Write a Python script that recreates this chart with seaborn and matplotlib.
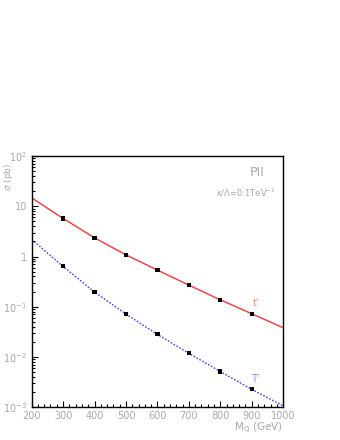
import numpy as np, pandas as pd, matplotlib
matplotlib.use("Agg")
import matplotlib.pyplot as plt
import matplotlib.ticker as mticker
import seaborn as sns

sns.set_style("ticks")
plt.rcParams["font.family"] = ["DejaVu Sans"]

# Data
mass     = [200, 300, 400, 500, 600, 700, 800, 900, 1000]
xs_tprim = [14.8, 5.74, 2.36, 1.08, 0.536, 0.269, 0.137, 0.0722, 0.038]
xs_Tprim = [2.19, 0.635, 0.195, 0.0713, 0.028, 0.01175, 0.0051, 0.00225, 0.00105]
mark_idx = slice(1, 8)   # markers at 300..900 GeV

df = pd.DataFrame({"M": mass, "tp": xs_tprim, "Tp": xs_Tprim})
GREY = "#a8a8a8"

fig = plt.figure(figsize=(3.4, 4.4), dpi=100)
ax = fig.add_axes([0.093, 0.075, 0.740, 0.570])

sns.lineplot(data=df, x="M", y="tp", color="#ff3333", lw=1.0, ax=ax)
sns.lineplot(data=df, x="M", y="Tp", color="#4040ff", lw=1.0, ls=(0, (1.2, 1.2)), ax=ax)
mk = df.iloc[mark_idx]
sns.scatterplot(x=mk["M"], y=mk["tp"], marker="s", s=9, color="black", edgecolor="none", ax=ax, zorder=5)
sns.scatterplot(x=mk["M"], y=mk["Tp"], marker="s", s=9, color="black", edgecolor="none", ax=ax, zorder=5)

ax.set_yscale("log")
ax.set_xlim(200, 1000); ax.set_ylim(1e-3, 1e2)
ax.xaxis.set_major_locator(mticker.MultipleLocator(100))
ax.xaxis.set_minor_locator(mticker.MultipleLocator(20))
ax.yaxis.set_major_locator(mticker.LogLocator(base=10, numticks=10))
ax.yaxis.set_minor_locator(mticker.LogLocator(base=10, subs=np.arange(2, 10), numticks=20))
ax.yaxis.set_minor_formatter(mticker.NullFormatter())
ylabels = {1e-3: r"$10^{-3}$", 1e-2: r"$10^{-2}$", 1e-1: r"$10^{-1}$", 1: "1", 10: "10", 100: r"$10^{2}$"}
ax.yaxis.set_major_formatter(mticker.FuncFormatter(lambda v, p: ylabels.get(round(v, 6), "")))

ax.tick_params(which="both", direction="in", top=False, right=False, colors="black",
               labelcolor=GREY, labelsize=7, width=0.8)
ax.tick_params(which="major", length=4)
ax.tick_params(which="minor", length=2)
ax.tick_params(axis="x", pad=3)
for s in ax.spines.values():
    s.set_linewidth(1.0); s.set_color("black")

ax.set_xlabel(r"M$_{\rm Q}$ (GeV)", color=GREY, fontsize=7.5)
ax.xaxis.set_label_coords(1.0, -0.055); ax.xaxis.label.set_ha("right")
ax.set_ylabel("")
ax.text(-0.093, 0.975, r"$\sigma$ (pb)", transform=ax.transAxes, rotation=90,
        ha="center", va="top", color=GREY, fontsize=6.5)

ax.text(0.895, 0.935, "PII", transform=ax.transAxes, ha="center", va="center", color=GREY, fontsize=9)
ax.text(0.85, 0.855, r"$\kappa/\Lambda$=0.1TeV$^{-1}$", transform=ax.transAxes, ha="center",
        va="center", color=GREY, fontsize=6)
ax.text(0.89, 0.415, "t'", transform=ax.transAxes, ha="center", va="center", color="#ff8080", fontsize=7)
ax.text(0.89, 0.11, "T'", transform=ax.transAxes, ha="center", va="center", color="#8c8cff", fontsize=7)

plt.savefig("out.png", dpi=100)
